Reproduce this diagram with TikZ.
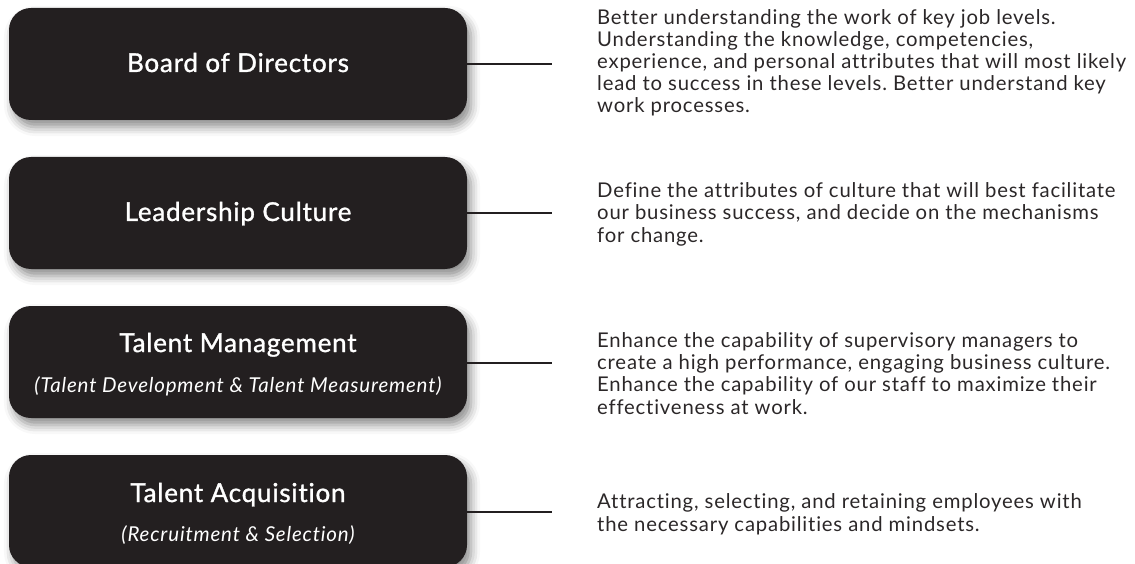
\documentclass[tikz,border=0pt]{standalone}
\usepackage{fontspec}
\setmainfont{Lato}[Ligatures=NoCommon]
\newfontfamily\titlefont{Lato}[Ligatures=NoCommon, FakeBold=1.2, LetterSpace=3]
\newfontfamily\bodyfont{Lato}[Ligatures=NoCommon, LetterSpace=4]
\usetikzlibrary{shadows.blur}
\definecolor{boxdark}{HTML}{231F20}
\definecolor{bodytext}{HTML}{2B2728}
\frenchspacing
\begin{document}
\begin{tikzpicture}[x=1pt,y=-1pt,
  levelbox/.style={draw=none, fill=boxdark, rounded corners=22pt,
    minimum width=458pt, minimum height=112pt, inner sep=0pt,
    blur shadow={shadow xshift=4pt, shadow yshift=-7pt, shadow blur radius=9pt, shadow opacity=45}},
  boxtitle/.style={text=white, font=\titlefont\fontsize{26}{28}\selectfont, inner sep=0pt, anchor=base},
  boxsub/.style={text=white, font=\bodyfont\fontsize{20.5}{22}\selectfont\itshape, inner sep=0pt, anchor=base},
  % multi-line descriptions are placed by the baseline of their last line
  desc/.style={text=bodytext, font=\bodyfont\fontsize{20.3}{22.2}\selectfont, align=left, anchor=base west,
    inner sep=0pt},
  link/.style={draw=boxdark, line width=2.6pt}]
\useasboundingbox (0,0) rectangle (1135,564);
\begin{scope}
\clip (0,0) rectangle (1135,564);

% level boxes
\node[levelbox] (b1) at (238,64) {};
\node[levelbox] (b2) at (238,213) {};
\node[levelbox] (b3) at (238,362) {};
\node[levelbox] (b4) at (238,511) {};

% box titles
\node[boxtitle] (t1) at (238,72) {Board of Directors};
\node[boxtitle] (t2) at (238,221) {Leadership Culture};
\node[boxtitle] (t3) at (238,352) {Talent Management};
\node[boxsub]   (s3) at (238,392) {(Talent Development \& Talent Measurement)};
\node[boxtitle] (t4) at (238,502) {Talent Acquisition};
\node[boxsub]   (s4) at (238,541) {(Recruitment \& Selection)};

% connector ends
\coordinate (c1) at (552,64);
\coordinate (c2) at (552,213);
\coordinate (c3) at (552,363);
\coordinate (c4) at (552,512);
\draw[link] (b1.east) -- (c1);
\draw[link] (b2.east) -- (c2);
\draw[link] (b3.east |- c3) -- (c3);
\draw[link] (b4.east |- c4) -- (c4);

% descriptions
\node[desc] (d1) at (597,113) {Better understanding the work of key job levels.\\
Understanding the knowledge, competencies,\\
experience, and personal attributes that will most likely\\
lead to success in these levels. Better understand key\\
work processes.};
\node[desc] (d2) at (597,242) {Define the attributes of culture that will best facilitate\\
our business success, and decide on the mechanisms\\
for change.};
\node[desc] (d3) at (597,414) {Enhance the capability of supervisory managers to\\
create a high performance, engaging business culture.\\
Enhance the capability of our staff to maximize their\\
effectiveness at work.};
\node[desc] (d4) at (597,531) {Attracting, selecting, and retaining employees with\\
the necessary capabilities and mindsets.};
\end{scope}
\end{tikzpicture}
\end{document}
